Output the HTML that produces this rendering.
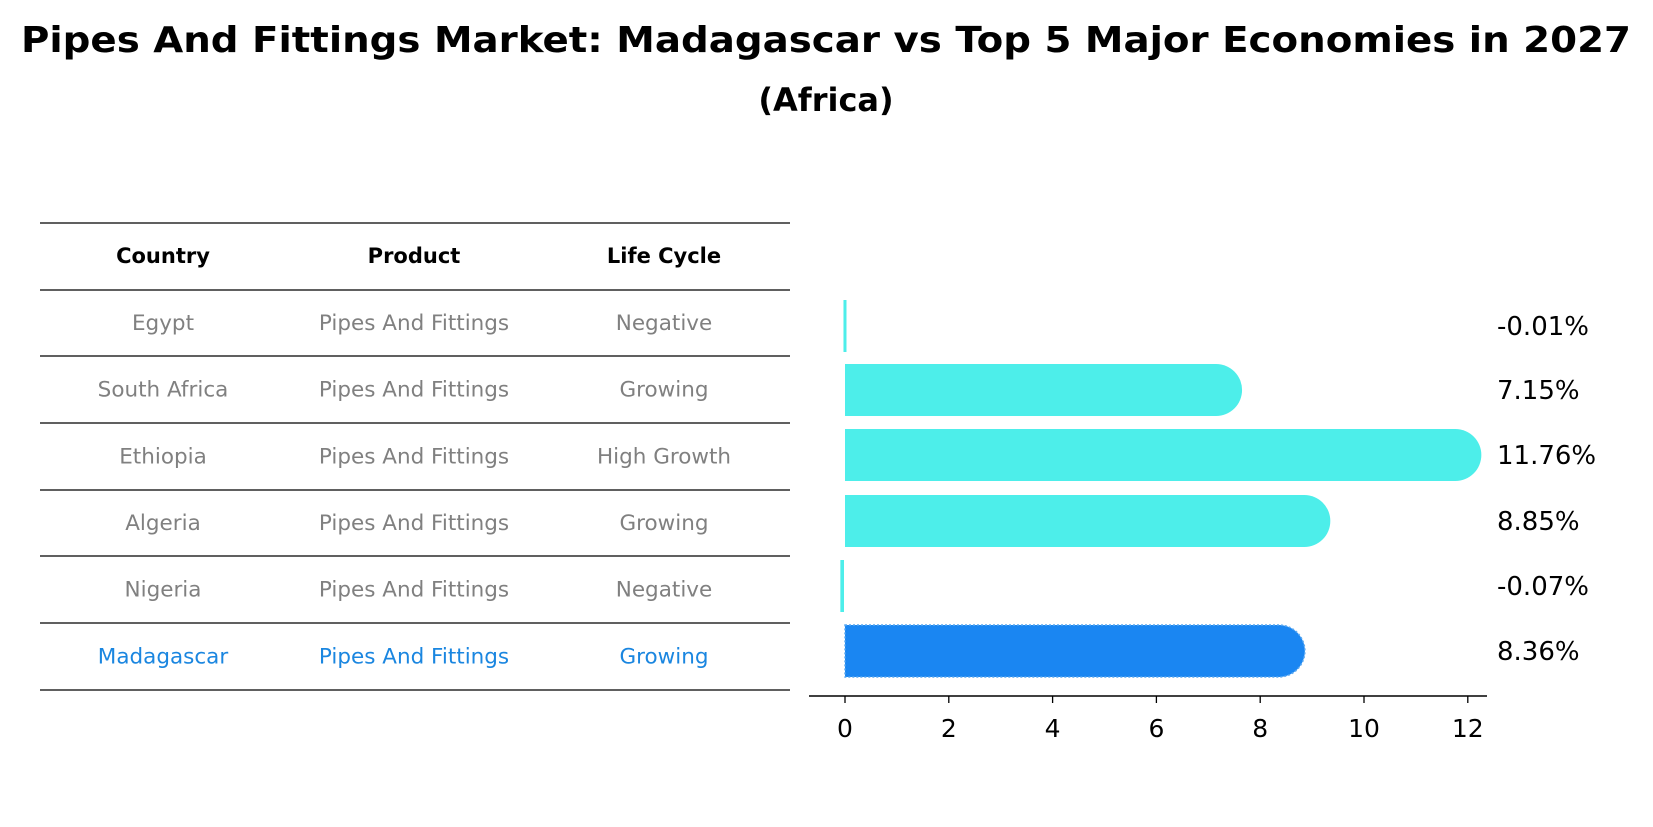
<!DOCTYPE html>
<html><head><meta charset="utf-8"><style>
body{margin:0;background:#fff;width:1653px;height:823px;overflow:hidden;font-family:"DejaVu Sans","Liberation Sans",sans-serif}
</style></head><body>
<svg width="1653" height="823" xmlns="http://www.w3.org/2000/svg" font-family="DejaVu Sans, Liberation Sans, sans-serif">
<text x="826" y="52" text-anchor="middle" font-size="36" font-weight="bold" textLength="1610" lengthAdjust="spacingAndGlyphs">Pipes And Fittings Market: Madagascar vs Top 5 Major Economies in 2027</text>
<text x="826" y="111" text-anchor="middle" font-size="32" font-weight="bold">(Africa)</text>
<g id="table"></g>
<g id="chart"></g>
</svg>
<script>
const countries=["Egypt","South Africa","Ethiopia","Algeria","Nigeria","Madagascar"];
const products=["Pipes And Fittings","Pipes And Fittings","Pipes And Fittings","Pipes And Fittings","Pipes And Fittings","Pipes And Fittings"];
const lifeCycles=["Negative","Growing","High Growth","Growing","Negative","Growing"];
const values=[-0.01,7.15,11.76,8.85,-0.07,8.36];
const labels=["-0.01%","7.15%","11.76%","8.85%","-0.07%","8.36%"];
const ticks=[0,2,4,6,8,10,12];
const NS="http://www.w3.org/2000/svg";
function mk(t,a,p){const e=document.createElementNS(NS,t);for(const k in a)e.setAttribute(k,a[k]);p.appendChild(e);return e;}
const tb=document.getElementById('table');
const lines=[223,290,356,423,490,556,623,690];
lines.forEach(y=>{const l=mk('line',{x1:40,x2:790,y1:y,y2:y,stroke:'#000','stroke-width':1.2},tb);

});
const cx=[163,414,664];
["Country","Product","Life Cycle"].forEach((h,i)=>{const t=mk('text',{x:cx[i],y:263,'text-anchor':'middle','font-size':21,'font-weight':'bold'},tb);t.textContent=h;

});
countries.forEach((c,r)=>{const y=(lines[r+1]+lines[r+2])/2+7;const col=r===5?'#1a86e0':'#808080';
[c,products[r],lifeCycles[r]].forEach((v,i)=>{const t=mk('text',{x:cx[i],y:y,'text-anchor':'middle','font-size':21.5,fill:col},tb);t.textContent=v;

});});
const ch=document.getElementById('chart');
const x0=845,sc=51.9;const X=v=>x0+v*sc;
const centers=[326,390,455,521,586,651];const bh=52;
values.forEach((v,i)=>{const cy=centers[i];const color=i===5?'#1a86f2':'#4deeea';
let b;
if(v<=0){b=mk('rect',{x:X(v)-1,y:cy-bh/2,width:Math.max(3,Math.abs(v)*sc),height:bh,fill:color},ch);}
else{const xe=X(v),r=bh/2;
b=mk('path',{d:`M${x0},${cy-r} L${xe},${cy-r} A${r},${r} 0 0 1 ${xe},${cy+r} L${x0},${cy+r} Z`,fill:color,stroke:i===5?'#5aa8f0':'none','stroke-dasharray':'2,2','stroke-width':1.5},ch);}


const t=mk('text',{x:1497,y:cy+9,'font-size':26},ch);t.textContent=labels[i];

});
const ax=mk('line',{x1:809,x2:1487,y1:696,y2:696,stroke:'#000','stroke-width':1.5},ch);


ticks.forEach(v=>{const l=mk('line',{x1:X(v),x2:X(v),y1:696,y2:703,stroke:'#000','stroke-width':1.3},ch);


const t=mk('text',{x:X(v),y:737,'text-anchor':'middle','font-size':25},ch);t.textContent=v;

});
</script>
</body></html>
